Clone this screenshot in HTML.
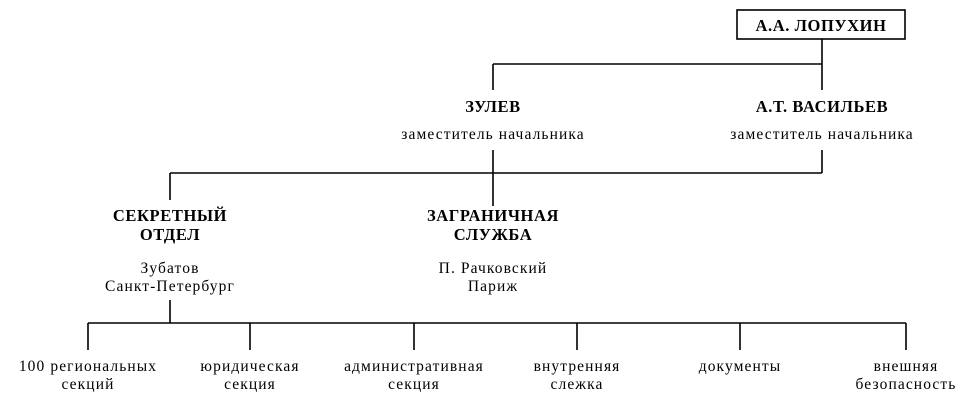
<!DOCTYPE html>
<html><head><meta charset="utf-8"><style>
body{margin:0;background:#fff}
svg{display:block}
text{font-family:"Liberation Serif","Noto Serif CJK SC",serif;fill:#000;text-anchor:middle}
.b{font-size:16.5px;font-weight:bold;letter-spacing:0.6px}
.s{font-size:15.5px;letter-spacing:1.1px}
</style></head><body>
<svg width="977" height="407" viewBox="0 0 977 407">
<g stroke="#000" stroke-width="1.6" fill="none">
<rect x="737" y="10" width="168" height="29"/>
<path d="M822 39V90M493 64H822M493 64V90"/>
<path d="M493 150V206M170 173H822M822 150V173M170 173V200"/>
<path d="M170 300V323M88 323H906"/>
<path d="M88 323V350M250 323V350M414 323V350M577 323V350M740 323V350M906 323V350"/>
</g>
<text class="b" x="821" y="31">А.А. ЛОПУХИН</text>
<text class="b" x="493" y="112">ЗУЛЕВ</text>
<text class="s" x="493" y="139">заместитель начальника</text>
<text class="b" x="822" y="112">А.Т. ВАСИЛЬЕВ</text>
<text class="s" x="822" y="139">заместитель начальника</text>
<text class="b" x="170" y="221">СЕКРЕТНЫЙ</text>
<text class="b" x="170" y="240">ОТДЕЛ</text>
<text class="s" x="170" y="273">Зубатов</text>
<text class="s" x="170" y="291">Санкт-Петербург</text>
<text class="b" x="493" y="221">ЗАГРАНИЧНАЯ</text>
<text class="b" x="493" y="240">СЛУЖБА</text>
<text class="s" x="493" y="273">П. Рачковский</text>
<text class="s" x="493" y="291">Париж</text>
<text class="s" x="88" y="371">100 региональных</text>
<text class="s" x="88" y="389">секций</text>
<text class="s" x="250" y="371">юридическая</text>
<text class="s" x="250" y="389">секция</text>
<text class="s" x="414" y="371">административная</text>
<text class="s" x="414" y="389">секция</text>
<text class="s" x="577" y="371">внутренняя</text>
<text class="s" x="577" y="389">слежка</text>
<text class="s" x="740" y="371">документы</text>
<text class="s" x="906" y="371">внешняя</text>
<text class="s" x="906" y="389">безопасность</text>
</svg>
</body></html>
